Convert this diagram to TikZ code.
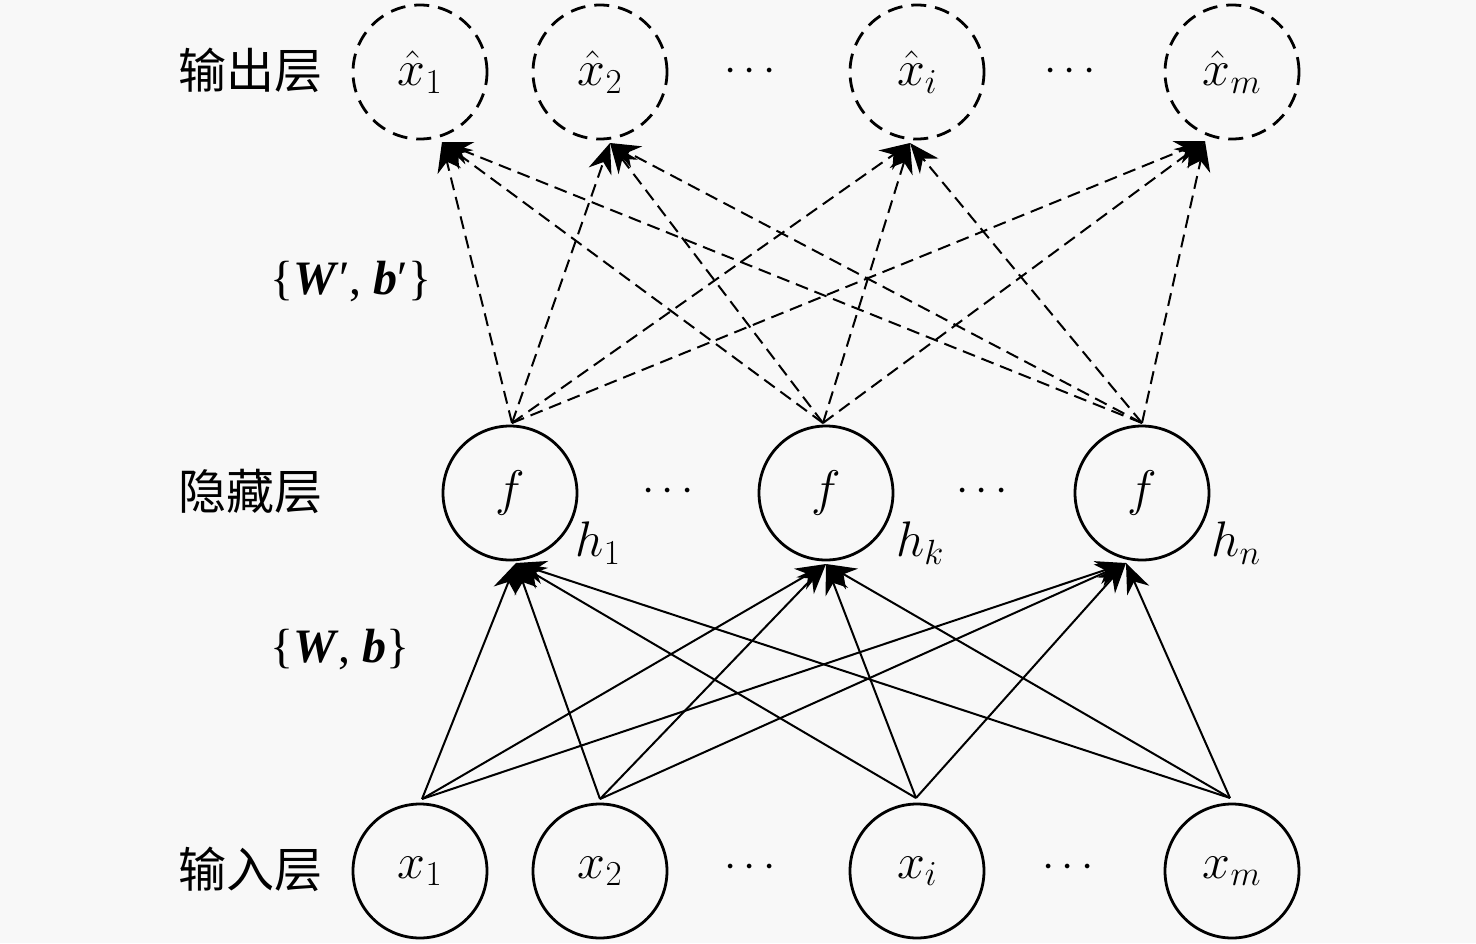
\RequirePackage{fix-cm}
\documentclass[tikz,border=0pt]{standalone}
\usepackage{fontspec}
\setmainfont{Liberation Serif}
\newfontfamily\cjk{Noto Sans CJK SC}
\usetikzlibrary{arrows.meta}
\definecolor{bg}{RGB}{248,248,248}
\begin{document}
\begin{tikzpicture}[x=1pt,y=-1pt,
  neuron/.style={circle,draw,line width=2.8pt,minimum size=134pt,inner sep=0pt,font=\fontsize{50}{52}\selectfont},
  outneuron/.style={neuron,dash pattern=on 15pt off 9pt},
  layerlabel/.style={font=\cjk\fontsize{48}{52}\selectfont},
  wlabel/.style={font=\fontsize{48}{52}\selectfont},
  hlabel/.style={font=\fontsize{50}{52}\selectfont},
  dotlabel/.style={font=\fontsize{44}{48}\selectfont},
  fwd/.style={line width=2pt,-{Stealth[length=30pt,width=24pt]}},
  bwd/.style={line width=2pt,dash pattern=on 13pt off 7pt,-{Stealth[length=30pt,width=24pt]}}
]
\useasboundingbox[fill=bg] (0,0) rectangle (1476,943);

% output layer
\node[outneuron] (o1) at (420,72) {$\hat{x}_1$};
\node[outneuron] (o2) at (600,72) {$\hat{x}_2$};
\node[outneuron] (oi) at (917,72) {$\hat{x}_i$};
\node[outneuron] (om) at (1232,72) {$\hat{x}_m$};
% hidden layer
\node[neuron] (h1) at (510,493) {$f$};
\node[neuron] (hk) at (826,493) {$f$};
\node[neuron] (hn) at (1142,493) {$f$};
% input layer
\node[neuron] (x1) at (420,871) {$x_1$};
\node[neuron] (x2) at (600,871) {$x_2$};
\node[neuron] (xi) at (917,871) {$x_i$};
\node[neuron] (xm) at (1232,871) {$x_m$};

% labels
\node[layerlabel] (lo) at (250,70) {输出层};
\node[layerlabel] (lh) at (250,491) {隐藏层};
\node[layerlabel] (li) at (250,869) {输入层};
\node[wlabel] (wp) at (351,282) {\{\textbf{\textit{W}}′, \textbf{\textit{b}}′\}};
\node[wlabel] (w) at (340,650) {\{\textbf{\textit{W}}, \textbf{\textit{b}}\}};
\node[hlabel] (lh1) at (598,543) {$h_1$};
\node[hlabel] (lhk) at (920,543) {$h_k$};
\node[hlabel] (lhn) at (1236,543) {$h_n$};
% dots
\node[dotlabel] (d1) at (750,72) {$\cdots$};
\node[dotlabel] (d2) at (1070,72) {$\cdots$};
\node[dotlabel] (d3) at (668,492) {$\cdots$};
\node[dotlabel] (d4) at (982,492) {$\cdots$};
\node[dotlabel] (d5) at (750,868) {$\cdots$};
\node[dotlabel] (d6) at (1068,868) {$\cdots$};

% connection points
\coordinate (x1t) at (422,799);
\coordinate (x2t) at (600,799);
\coordinate (xit) at (916,798);
\coordinate (xmt) at (1230,798);
\coordinate (h1b) at (516,563);
\coordinate (hkb) at (826,564);
\coordinate (hnb) at (1126,563);
\coordinate (h1t) at (512,423);
\coordinate (hkt) at (823,423);
\coordinate (hnt) at (1142,423);
\coordinate (o1b) at (442,142);
\coordinate (o2b) at (610,143);
\coordinate (oib) at (910,143);
\coordinate (omb) at (1205,141);

\foreach \s in {x1t,x2t,xit,xmt}
  \foreach \t in {h1b,hkb,hnb}
    \draw[fwd] (\s) -- (\t);
\foreach \s in {h1t,hkt,hnt}
  \foreach \t in {o1b,o2b,oib,omb}
    \draw[bwd] (\s) -- (\t);
\end{tikzpicture}
\end{document}
